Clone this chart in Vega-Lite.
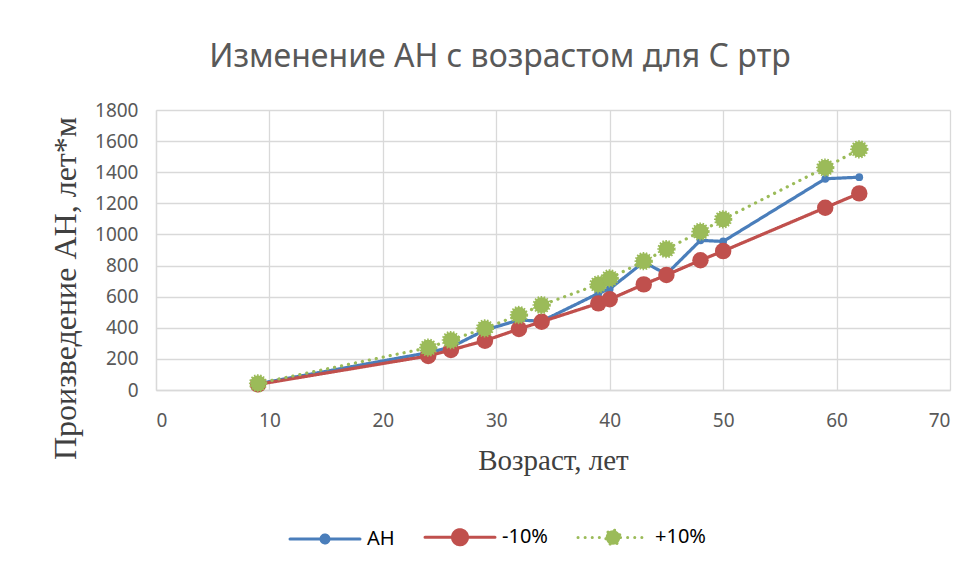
{
  "$schema": "https://vega.github.io/schema/vega-lite/v6.json",
  "autosize": {"type": "none"},
  "width": 794,
  "height": 280,
  "padding": {"left": 156, "top": 110, "right": 29, "bottom": 181},
  "background": "white",
  "title": {
    "text": "Изменение АН с возрастом для С ртр",
    "font": "Noto Sans",
    "fontSize": 32,
    "fontWeight": "normal",
    "color": "#595959",
    "anchor": "middle",
    "dx": -53,
    "offset": 27
  },
  "config": {
    "view": {"stroke": null},
    "axis": {
      "gridColor": "#D9D9D9",
      "gridWidth": 1.3,
      "domainColor": "#D9D9D9",
      "domainWidth": 1.3,
      "ticks": false,
      "labelFont": "Noto Sans",
      "labelFontSize": 19,
      "labelColor": "#595959",
      "titleFont": "Liberation Serif",
      "titleFontWeight": "normal",
      "titleColor": "#404040"
    }
  },
  "data": {
    "values": [
      {"age": 9, "value": 40, "series": "АН"},
      {"age": 24, "value": 240, "series": "АН"},
      {"age": 26, "value": 275, "series": "АН"},
      {"age": 29, "value": 385, "series": "АН"},
      {"age": 32, "value": 450, "series": "АН"},
      {"age": 34, "value": 442, "series": "АН"},
      {"age": 39, "value": 621, "series": "АН"},
      {"age": 40, "value": 650, "series": "АН"},
      {"age": 43, "value": 822, "series": "АН"},
      {"age": 45, "value": 745, "series": "АН"},
      {"age": 48, "value": 962, "series": "АН"},
      {"age": 50, "value": 955, "series": "АН"},
      {"age": 59, "value": 1358, "series": "АН"},
      {"age": 62, "value": 1368, "series": "АН"},
      {"age": 9, "value": 36, "series": "-10%"},
      {"age": 24, "value": 219, "series": "-10%"},
      {"age": 26, "value": 257, "series": "-10%"},
      {"age": 29, "value": 317, "series": "-10%"},
      {"age": 32, "value": 392, "series": "-10%"},
      {"age": 34, "value": 439, "series": "-10%"},
      {"age": 39, "value": 557, "series": "-10%"},
      {"age": 40, "value": 583, "series": "-10%"},
      {"age": 43, "value": 679, "series": "-10%"},
      {"age": 45, "value": 739, "series": "-10%"},
      {"age": 48, "value": 834, "series": "-10%"},
      {"age": 50, "value": 893, "series": "-10%"},
      {"age": 59, "value": 1172, "series": "-10%"},
      {"age": 62, "value": 1264, "series": "-10%"},
      {"age": 9, "value": 43, "series": "+10%"},
      {"age": 24, "value": 272, "series": "+10%"},
      {"age": 26, "value": 321, "series": "+10%"},
      {"age": 29, "value": 396, "series": "+10%"},
      {"age": 32, "value": 482, "series": "+10%"},
      {"age": 34, "value": 546, "series": "+10%"},
      {"age": 39, "value": 679, "series": "+10%"},
      {"age": 40, "value": 718, "series": "+10%"},
      {"age": 43, "value": 828, "series": "+10%"},
      {"age": 45, "value": 906, "series": "+10%"},
      {"age": 48, "value": 1018, "series": "+10%"},
      {"age": 50, "value": 1097, "series": "+10%"},
      {"age": 59, "value": 1430, "series": "+10%"},
      {"age": 62, "value": 1547, "series": "+10%"}
    ]
  },
  "encoding": {
    "x": {
      "field": "age",
      "type": "quantitative",
      "scale": {"domain": [0, 70], "nice": false},
      "axis": {"values": [0, 10, 20, 30, 40, 50, 60, 70], "title": "Возраст, лет", "titleFontSize": 29, "labelPadding": 21, "titlePadding": 16}
    },
    "y": {
      "field": "value",
      "type": "quantitative",
      "scale": {"domain": [0, 1800], "nice": false},
      "axis": {"values": [0, 200, 400, 600, 800, 1000, 1200, 1400, 1600, 1800], "format": "d", "title": "Произведение АН, лет*м", "titleFontSize": 32, "labelPadding": 18, "titleX": -91, "titleY": 178, "titleAlign": "center", "titleBaseline": "middle", "titleAngle": -90}
    },
    "color": {
      "field": "series",
      "type": "nominal",
      "scale": {"domain": ["АН", "-10%", "+10%"], "range": ["#4A7EBB", "#C0504D", "#9BBB59"]},
      "legend": {
        "title": null,
        "orient": "none",
        "direction": "horizontal",
        "legendX": 159,
        "legendY": 417,
        "symbolSize": 100,
        "symbolStrokeWidth": 3,
        "labelFont": "Noto Sans",
        "labelFontSize": 20,
        "labelColor": "#000000",
        "labelOffset": 32,
        "columnPadding": 24,
        "encode": {
          "symbols": {
            "update": {
              "size": {"value": 100},
              "shape": {"signal": "datum.value == 'АН' ? 'M-7,0H7M0.8,0A0.8,0.8,0,1,1,-0.8,0A0.8,0.8,0,1,1,0.8,0Z' : datum.value == '-10%' ? 'M-7,0H7M1.5,0A1.5,1.5,0,1,1,-1.5,0A1.5,1.5,0,1,1,1.5,0Z' : 'M-7,0H-1.5M1.5,0H7M1.45,0A1.45,1.45,0,1,1,-1.45,0A1.45,1.45,0,1,1,1.45,0Z'"},
              "fill": {"scale": "color", "field": "value"},
              "stroke": {"scale": "color", "field": "value"},
              "strokeDash": {"signal": "datum.value == '+10%' ? [0.1, 7] : [1, 0]"},
              "strokeCap": {"value": "round"},
              "strokeWidth": {"value": 3}
            }
          }
        }
      }
    }
  },
  "layer": [
    {
      "mark": {"type": "line", "strokeWidth": 3.2, "strokeCap": "round"},
      "encoding": {
        "strokeDash": {
          "field": "series",
          "type": "nominal",
          "scale": {"domain": ["АН", "-10%", "+10%"], "range": [[1, 0], [1, 0], [0.1, 7]]},
          "legend": null
        }
      }
    },
    {
      "transform": [{"filter": "datum.series == 'АН'"}],
      "mark": {"type": "point", "filled": true, "opacity": 1, "size": 60}
    },
    {
      "transform": [{"filter": "datum.series == '-10%'"}],
      "mark": {"type": "point", "filled": true, "opacity": 1, "size": 270}
    },
    {
      "transform": [{"filter": "datum.series == '+10%'"}],
      "mark": {"type": "point", "filled": true, "opacity": 1, "size": 250, "stroke": "#9BBB59", "strokeWidth": 2.5, "strokeDash": [1.5, 1.5]}
    }
  ]
}
